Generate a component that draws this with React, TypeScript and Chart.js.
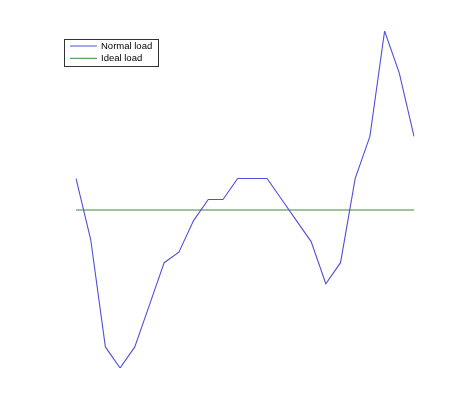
import React, { useEffect, useRef } from "react";
import { Chart, registerables } from "chart.js";

Chart.register(...registerables);

const categories: number[] = Array.from({ length: 24 }, (_, i) => i + 1);
const normalLoad: number[] = [9, 6.1, 1, 0, 1, 3, 5, 5.5, 7, 8, 8, 9, 9, 9, 8, 7, 6, 4, 5, 9, 11, 16, 14, 11];
const idealLoad: number[] = categories.map(() => 7.5);
const seriesNames: string[] = ["Normal load", "Ideal load"];
const seriesColors: string[] = ["#5050d8", "#3c8c3c"];

const legendPlugin = {
  id: "boxLegend",
  afterDraw(chart: any) {
    const ctx = chart.ctx as CanvasRenderingContext2D;
    ctx.save();
    const x = 64.5, y = 39.5, w = 94, h = 27;
    ctx.fillStyle = "#ffffff";
    ctx.fillRect(x, y, w, h);
    ctx.strokeStyle = "#333333";
    ctx.lineWidth = 1;
    ctx.strokeRect(x, y, w, h);
    ctx.font = "9.5px 'Liberation Sans', Arial, sans-serif";
    ctx.textBaseline = "middle";
    seriesNames.forEach((name, i) => {
      const ly = 46 + i * 12.3;
      ctx.strokeStyle = seriesColors[i];
      ctx.beginPath();
      ctx.moveTo(70, ly);
      ctx.lineTo(97, ly);
      ctx.stroke();
      ctx.fillStyle = "#000000";
      ctx.fillText(name, 101, ly);
    });
    ctx.restore();
  },
};

export default function App() {
  const ref = useRef<HTMLCanvasElement | null>(null);
  useEffect(() => {
    if (!ref.current) return;
    const chart = new Chart(ref.current, {
      type: "line",
      data: {
        labels: categories,
        datasets: [
          {
            label: seriesNames[0],
            data: normalLoad,
            borderColor: seriesColors[0],
            borderWidth: 1.1,
            pointRadius: 0,
            tension: 0,
            fill: false,
          },
          {
            label: seriesNames[1],
            data: idealLoad,
            borderColor: seriesColors[1],
            borderWidth: 1.1,
            pointRadius: 0,
            tension: 0,
            fill: false,
          },
        ],
      },
      options: {
        animation: false,
        responsive: false,
        devicePixelRatio: 1,
        layout: { padding: { left: 76, right: 60, top: 31, bottom: 46 } },
        plugins: { legend: { display: false }, tooltip: { enabled: false } },
        scales: {
          x: { type: "category", display: false, offset: false },
          y: { display: false, min: 0, max: 16 },
        },
      },
      plugins: [legendPlugin],
    });
    return () => chart.destroy();
  }, []);
  return (
    <div style={{ position: "fixed", left: 0, top: 0, width: 474, height: 414, background: "#fff" }}>
      <canvas ref={ref} width={474} height={414} style={{ width: 474, height: 414 }} />
    </div>
  );
}
